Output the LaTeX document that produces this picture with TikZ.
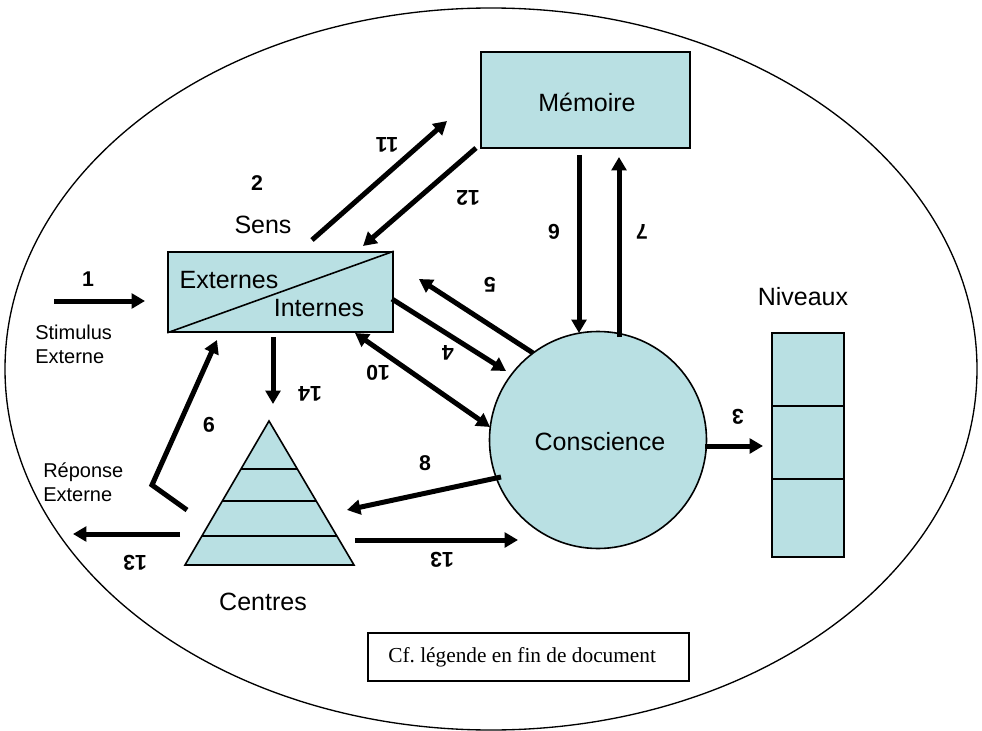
\documentclass[tikz,border=0pt]{standalone}
\usepackage{fontspec}
\setmainfont{Liberation Sans}
\newfontfamily\legendfont{Liberation Serif}
\usetikzlibrary{arrows.meta,shapes.geometric}
\definecolor{fillblue}{RGB}{185,224,227}
\frenchspacing
\tikzset{
  boxshape/.style={draw=black, line width=1.2pt, fill=fillblue, inner sep=0pt},
  bigtext/.style={font=\fontsize{18.75}{22}\selectfont},
  smalltext/.style={font=\fontsize{15}{18}\selectfont, align=left},
  numlabel/.style={font=\bfseries\fontsize{16}{19}\selectfont},
  rotlabel/.style={numlabel, rotate=180},
  arr/.style={line width=3.75pt, -{Triangle[length=10pt,width=11pt]}},
  dblarr/.style={line width=3.75pt, {Triangle[length=10pt,width=11pt]}-{Triangle[length=10pt,width=11pt]}},
  thinline/.style={line width=1.2pt},
}
\begin{document}
\begin{tikzpicture}[x=0.75pt,y=-0.75pt]
\useasboundingbox (0,0) rectangle (982,731);
% outer ellipse
\node[ellipse, draw=black, line width=1pt, minimum width=729pt, minimum height=541.5pt, inner sep=0pt] (outer) at (491,369) {};

% Memoire
\node[boxshape, minimum width=156.75pt, minimum height=72pt] (mem) at (585.5,100) {};
\node[bigtext] (memt) at (587,102) {Mémoire};

% Sens box
\node[boxshape, minimum width=168.75pt, minimum height=60pt] (sens) at (280.5,292) {};
\draw[thinline] (sens.south west) -- (sens.north east);
\node[bigtext] (ext) at (229,280) {Externes};
\node[bigtext] (int) at (319,308) {Internes};
\node[bigtext] (senst) at (263,225) {Sens};

% Conscience
\node[circle, draw=black, line width=1.2pt, fill=fillblue, minimum size=162.75pt, inner sep=0pt] (cons) at (598,440) {};
\node[bigtext] (const) at (600,442) {Conscience};

% Niveaux
\node[boxshape, minimum width=54pt, minimum height=168pt] (niv) at (808,445) {};
\coordinate (nl1) at (772,406);
\coordinate (nr1) at (844,406);
\coordinate (nl2) at (772,479);
\coordinate (nr2) at (844,479);
\draw[thinline] (nl1) -- (nr1);
\draw[thinline] (nl2) -- (nr2);
\node[bigtext] (nivt) at (803,297) {Niveaux};

% Pyramid (Centres)
\coordinate (pa) at (269,421);
\coordinate (pl) at (185,565);
\coordinate (pr) at (354,565);
\draw[thinline, fill=fillblue] (pa) -- (pl) -- (pr) -- cycle;
\coordinate (p1l) at (241,469); \coordinate (p1r) at (297,469);
\coordinate (p2l) at (222,501); \coordinate (p2r) at (316,501);
\coordinate (p3l) at (201.5,536); \coordinate (p3r) at (336.5,536);
\draw[thinline] (p1l) -- (p1r);
\draw[thinline] (p2l) -- (p2r);
\draw[thinline] (p3l) -- (p3r);
\node[bigtext] (centt) at (263,602) {Centres};

% Legend box
\node[draw=black, line width=1.2pt, minimum width=240.75pt, minimum height=36pt, inner sep=0pt] (leg) at (528.5,657) {};
\node[anchor=west, inner sep=0pt, font=\legendfont\fontsize{16}{19}\selectfont] (legt) at (388,657) {Cf. légende en fin de document};

% side texts
\node[smalltext, anchor=west, inner sep=0pt] (stim) at (35,344) {Stimulus\\Externe};
\node[smalltext, anchor=west, inner sep=0pt] (rep) at (43,482) {Réponse\\Externe};

% arrow end points
\coordinate (a1s) at (54,301);   \coordinate (a1e) at (145,301);
\coordinate (a11s) at (312,240); \coordinate (a11e) at (447,121);
\coordinate (a12s) at (476,148); \coordinate (a12e) at (363,246);
\coordinate (a6s) at (579,155);  \coordinate (a6e) at (579,333);
\coordinate (a7s) at (619,337);  \coordinate (a7e) at (619,157);
\coordinate (a5s) at (533,353);  \coordinate (a5e) at (419,279);
\coordinate (a4s) at (392,299);  \coordinate (a4e) at (506,371);
\coordinate (a10s) at (355,333); \coordinate (a10e) at (490,427);
\coordinate (a8s) at (501,477);  \coordinate (a8e) at (347,510);
\coordinate (a13rs) at (355,540); \coordinate (a13re) at (518,540);
\coordinate (a3s) at (705,446);  \coordinate (a3e) at (763,446);
\coordinate (a14s) at (273,337); \coordinate (a14e) at (273,404);
\coordinate (a13ls) at (180,534); \coordinate (a13le) at (73,534);
\coordinate (a9s) at (187,510);  \coordinate (a9m) at (152,485); \coordinate (a9e) at (217,340);

\draw[arr] (a1s) -- (a1e);
\draw[arr] (a11s) -- (a11e);
\draw[arr] (a12s) -- (a12e);
\draw[arr] (a6s) -- (a6e);
\draw[arr] (a7s) -- (a7e);
\draw[arr] (a5s) -- (a5e);
\draw[arr] (a4s) -- (a4e);
\draw[dblarr] (a10s) -- (a10e);
\draw[arr] (a8s) -- (a8e);
\draw[arr] (a13rs) -- (a13re);
\draw[arr] (a3s) -- (a3e);
\draw[arr] (a14s) -- (a14e);
\draw[arr] (a13ls) -- (a13le);
\draw[arr, line join=miter] (a9s) -- (a9m) -- (a9e);

% labels
\node[numlabel] (l1) at (88,279) {1};
\node[numlabel] (l2) at (257,183) {2};
\node[rotlabel] (l11) at (387,145) {11};
\node[rotlabel] (l12) at (468,198) {12};
\node[rotlabel] (l6) at (554,232) {6};
\node[rotlabel] (l7) at (642,232) {7};
\node[rotlabel] (l5) at (490,285) {5};
\node[rotlabel] (l4) at (448,353) {4};
\node[rotlabel] (l10) at (378,373) {10};
\node[numlabel] (l8) at (425,463) {8};
\node[rotlabel] (l3) at (738,417) {3};
\node[rotlabel] (l14) at (310,394) {14};
\node[rotlabel] (l9) at (209,425) {9};
\node[rotlabel] (l13a) at (135,563) {13};
\node[rotlabel] (l13b) at (442,560) {13};
\end{tikzpicture}
\end{document}
